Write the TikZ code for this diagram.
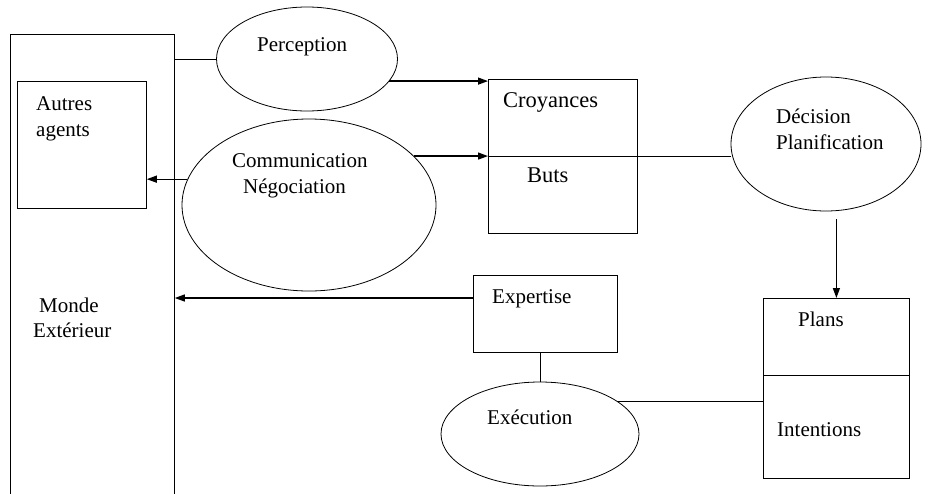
\documentclass[tikz,border=0pt]{standalone}
\usepackage{fontspec}
\setmainfont{Liberation Serif}
\usetikzlibrary{arrows.meta,shapes.geometric}
\begin{document}
\begin{tikzpicture}[x=1pt,y=-1pt,
  ln/.style={draw=black,line width=0.8pt},
  arr/.style={draw=black,line width=1.3pt,-{Triangle[length=10pt,width=7pt]}},
  ell/.style={ln,ellipse,inner sep=0pt},
  box/.style={ln,rectangle,inner sep=0pt},
  lbl/.style={anchor=base west,inner sep=0pt,font=\fontsize{21}{25}\selectfont},
  lblb/.style={anchor=base west,inner sep=0pt,font=\fontsize{22.5}{27}\selectfont}]
\useasboundingbox (0,0) rectangle (941,493);
\fill[white] (0,0) rectangle (941,493);
\clip (0,0) rectangle (941,493);
% outer world box (open at the bottom)
\node[box,minimum width=164pt,minimum height=486pt,anchor=north west] (outer) at (10,34) {};
% autres agents
\node[box,minimum width=129pt,minimum height=127pt,anchor=north west] (autres) at (17,81) {};
\node[lbl] (tautres) at (36,110) {Autres};
\node[lbl] (tagents) at (36,136) {agents};
\node[lbl] (tmonde) at (39,312) {Monde};
\node[lbl] (text) at (33,337) {Extérieur};
% perception
\node[ell,minimum width=181pt,minimum height=104pt] (perc) at (307,59) {};
\node[lbl] (tperc) at (257,51) {Perception};
% communication
\node[ell,minimum width=254pt,minimum height=172pt] (comm) at (309,205) {};
\node[lbl] (tcomm) at (232,167) {Communication};
\node[lbl] (tnego) at (243,193) {Négociation};
% croyances / buts
\node[box,minimum width=149pt,minimum height=154pt,anchor=north west] (bel) at (488,79) {};
\draw[ln] (bel.west) -- (bel.east);
\node[lblb] (tcroy) at (503,107) {Croyances};
\node[lblb] (tbuts) at (527,182) {Buts};
% decision
\node[ell,minimum width=190pt,minimum height=134pt] (dec) at (826,144) {};
\node[lbl] (tdec) at (776,123) {Décision};
\node[lbl] (tplan) at (776,149) {Planification};
% expertise
\node[box,minimum width=144pt,minimum height=77pt,anchor=north west] (exp) at (473,275) {};
\node[lbl] (texp) at (492,303) {Expertise};
% execution
\node[ell,minimum width=198pt,minimum height=104pt] (exe) at (540,434) {};
\node[lbl] (texe) at (487,424) {Exécution};
% plans / intentions
\node[box,minimum width=146pt,minimum height=180pt,anchor=north west] (pl) at (763,298) {};
\coordinate (pldiv) at (763,375);
\draw[ln] (pldiv) -- (pldiv -| pl.east);
\node[lbl] (tplans) at (798,326) {Plans};
\node[lbl] (tint) at (777,436) {Intentions};
% connectors
\draw[ln] (perc.west) -- (perc.west -| outer.east);
\draw[arr] (perc.-15) -- (perc.-15 -| bel.west);
\draw[arr] (comm.25) -- (comm.25 -| bel.west);
\draw[arr] (comm.168) -- (comm.168 -| autres.east);
\draw[ln] (bel.east) -- (bel.east -| dec.west);
\coordinate (dstart) at ([yshift=-8pt]dec.south -| pl.north);
\draw[arr] (dstart) -- (pl.north);
\coordinate (ea) at ([yshift=-23pt]exp.north west);
\draw[arr] (ea) -- (ea -| outer.east);
\draw[ln] (exe.north) -- (exe.north |- exp.south);
\draw[ln] (exe.23) -- (exe.23 -| pl.west);
\end{tikzpicture}
\end{document}
